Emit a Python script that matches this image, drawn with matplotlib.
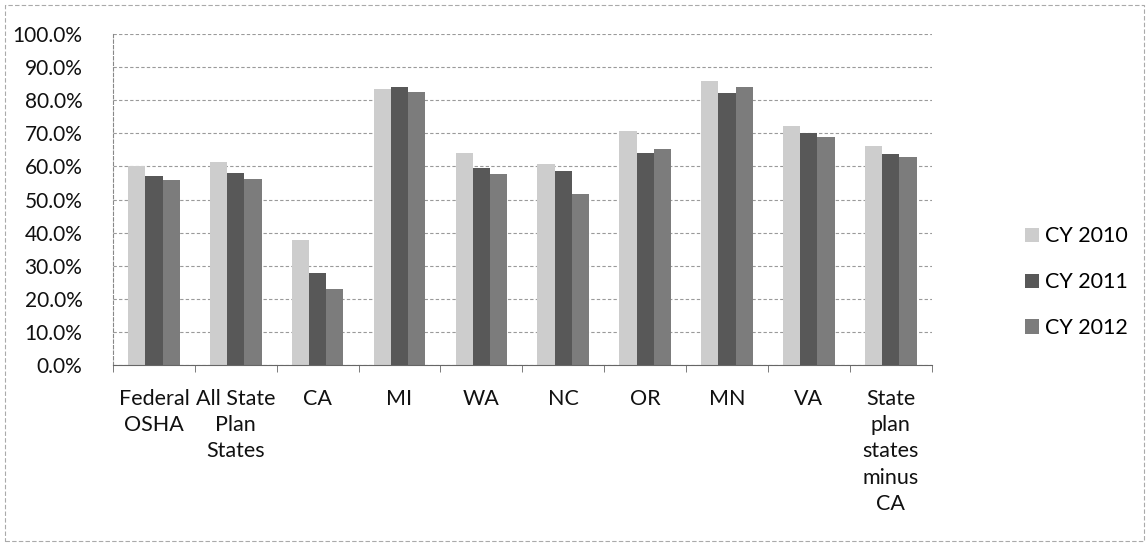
import matplotlib.pyplot as plt
import numpy as np
from matplotlib.patches import Rectangle

categories = ['Federal\nOSHA', 'All State\nPlan\nStates', 'CA', 'MI', 'WA', 'NC', 'OR',
              'MN', 'VA', 'State\nplan\nstates\nminus\nCA']
cy2010 = [60.0, 61.3, 37.8, 83.4, 64.2, 60.8, 70.6, 85.9, 72.1, 66.2]
cy2011 = [57.0, 57.9, 27.7, 83.9, 59.4, 58.5, 64.0, 82.2, 70.1, 63.9]
cy2012 = [56.0, 56.3, 22.9, 82.5, 57.6, 51.6, 65.2, 84.0, 68.8, 62.9]
series = ['CY 2010', 'CY 2011', 'CY 2012']

colors = ['#cdcdcd', '#585858', '#7c7c7c']
font = ['Lato', 'DejaVu Sans']
fs = 15.5

fig = plt.figure(figsize=(11.46, 5.46), dpi=100)
ax = fig.add_axes([0.0986, 0.3315, 0.7144, 0.6062])

x = np.arange(len(categories))
w = 0.21
for i, (vals, c, lab) in enumerate(zip([cy2010, cy2011, cy2012], colors, series)):
    ax.bar(x + (i - 1) * w, vals, width=w, color=c, label=lab, zorder=2)

ax.set_xlim(-0.5, len(categories) - 0.5)
ax.set_ylim(0, 100)
ax.set_yticks(np.arange(0, 101, 10))
ax.set_yticklabels(['%.1f%%' % v for v in np.arange(0, 101, 10)],
                   fontsize=15, family=font, color='#111111')
ax.yaxis.grid(True, color='#9a9a9a', linestyle=(0, (3, 2)), linewidth=0.8, zorder=0)
ax.tick_params(axis='y', length=0, pad=22)

# Excel-style ticks between categories
ax.set_xticks(np.arange(-0.5, len(categories), 1), minor=True)
ax.set_xticks(x)
ax.set_xticklabels(categories, fontsize=fs, family=font, color='#111111',
                   va='top', linespacing=1.4)
ax.tick_params(axis='x', which='major', length=0, pad=17)
ax.tick_params(axis='x', which='minor', length=5, color='#666666')

for s in ['top', 'right']:
    ax.spines[s].set_visible(False)
ax.spines['left'].set_color('#888888')
ax.spines['bottom'].set_color('#666666')
ax.spines['left'].set_linestyle((0, (3, 2)))

leg = ax.legend(loc='center left', bbox_to_anchor=(1.09, 0.25), frameon=False,
                prop={'family': font, 'size': fs}, handlelength=0.65,
                handleheight=0.65, handletextpad=0.3, labelspacing=1.2)

# outer chart border
fig.patches.append(Rectangle((0.004, 0.01), 0.994, 0.98, transform=fig.transFigure,
                             fill=False, edgecolor='#aaaaaa', linewidth=0.8,
                             linestyle=(0, (4, 2))))

fig.savefig('out.png', dpi=100, facecolor='white')
